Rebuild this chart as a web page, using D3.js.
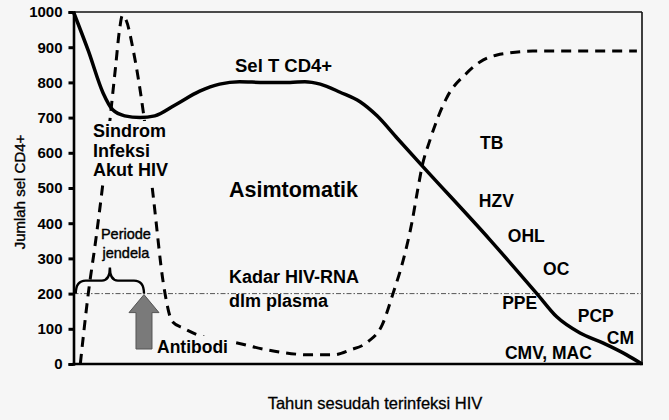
<!DOCTYPE html>
<html>
<head>
<meta charset="utf-8">
<script src="https://cdn.jsdelivr.net/npm/d3@7"></script>
<style>
  html, body { margin: 0; padding: 0; background: #f6f6f6; }
  svg { display: block; font-family: "Liberation Sans", Arial, sans-serif; }
</style>
</head>
<body>
<svg id="chart" width="669" height="420"></svg>
<script>
// ---- data ----
const yTicks = [0, 100, 200, 300, 400, 500, 600, 700, 800, 900, 1000];

// CD4+ T cell count (solid line): time (arbitrary 0-100) and value
const cd4Time  = [0, 2.6, 5.2, 6.9, 9.0, 11.7, 14.3, 17.8, 22.2, 25.7, 29.2, 33.6, 38.1, 40.7, 43.4, 46.9, 50.4, 53.4, 56.9, 61.5, 73.3, 81.5, 85.0, 89.1, 93.1, 97.3, 100];
const cd4Value = [1000, 890, 770, 722, 705, 700, 705, 735, 775, 795, 802, 800, 800, 802, 795, 772, 745, 705, 642, 560, 352, 200, 134, 88, 60, 26, 0];

// HIV-RNA in plasma (dashed line)
const rnaTime  = [1.2, 2.6, 3.9, 5.1, 7.4, 8.1, 8.6, 9.3, 10.5, 12.3, 14.1, 15.8, 17.4, 19.3, 22.8, 28.1, 34.1, 41.7, 45.7, 48.7, 51.7, 54.3, 56.2, 58.0, 59.5, 60.6, 61.3, 62.7, 65.7, 69.2, 71.5, 74.5, 76.3, 80.8, 99.1];
const rnaValue = [0, 200, 350, 503, 844, 950, 990, 975, 892, 713, 466, 230, 120, 102, 77, 62, 40, 26, 26, 40, 62, 111, 200, 295, 400, 500, 560, 636, 758, 827, 858, 878, 883, 889, 889];

const thresholdValue = 200;

// annotation labels
const stageLines = ["Sindrom", "Infeksi", "Akut HIV"];
const windowLines = ["Periode", "jendela"];
const rnaLines = ["Kadar HIV-RNA", "dlm plasma"];
const infections = [
  { name: "TB",       t: 71.5, v: 610 },
  { name: "HZV",      t: 71.3, v: 446 },
  { name: "OHL",      t: 76.4, v: 347 },
  { name: "OC",       t: 82.6, v: 253 },
  { name: "PPE",      t: 75.4, v: 157 },
  { name: "PCP",      t: 88.7, v: 120 },
  { name: "CM",       t: 93.8, v: 57 },
  { name: "CMV, MAC", t: 75.9, v: 14 }
];

// ---- layout ----
const svg = d3.select("#chart");
const bg = "#f6f6f6";
const x = d3.scaleLinear().domain([0, 100]).range([73.5, 642]);
const y = d3.scaleLinear().domain([0, 1000]).range([364, 12]);

svg.append("rect").attr("width", 669).attr("height", 420).attr("fill", bg);

// frame: top and right thin lines
svg.append("line").attr("x1", x(0)).attr("x2", x(100)).attr("y1", y(1000)).attr("y2", y(1000))
  .attr("stroke", "#111").attr("stroke-width", 1.6);
svg.append("line").attr("x1", x(100)).attr("x2", x(100)).attr("y1", y(1000)).attr("y2", y(0))
  .attr("stroke", "#111").attr("stroke-width", 1.6);

// threshold dash-dot line at 200
svg.append("line").attr("x1", x(0)).attr("x2", x(100)).attr("y1", y(thresholdValue)).attr("y2", y(thresholdValue))
  .attr("stroke", "#555").attr("stroke-width", 1).attr("stroke-dasharray", "5,2,1.5,2");

// dashed HIV-RNA line
const line = d3.line().curve(d3.curveMonotoneX);
svg.append("path")
  .attr("d", line(rnaTime.map((t, i) => [x(t), y(rnaValue[i])])))
  .attr("fill", "none").attr("stroke", "#000").attr("stroke-width", 3)
  .attr("stroke-dasharray", "10,7");

// background boxes behind labels (hide dashed line)
svg.append("rect").attr("x", 91).attr("y", 121).attr("width", 78).attr("height", 60).attr("fill", bg);
svg.append("rect").attr("x", 155).attr("y", 336).attr("width", 75).attr("height", 22).attr("fill", bg);

// solid CD4 line
svg.append("path")
  .attr("d", line(cd4Time.map((t, i) => [x(t), y(cd4Value[i])])))
  .attr("fill", "none").attr("stroke", "#000").attr("stroke-width", 3.5)
  .attr("stroke-linejoin", "round");

// y axis
const yAxis = d3.axisLeft(y).tickValues(yTicks).tickSize(5).tickPadding(6).tickFormat(d3.format("d"));
const gy = svg.append("g").attr("transform", `translate(${x(0)},0)`).call(yAxis);
gy.select(".domain").attr("stroke", "#000").attr("stroke-width", 2.6);
gy.selectAll(".tick line").attr("stroke", "#000").attr("stroke-width", 3);
gy.selectAll(".tick text").attr("font-size", 15).attr("font-weight", "bold")
  .attr("font-family", "'Liberation Sans', Arial, sans-serif").attr("fill", "#000");

// x axis line
svg.append("line").attr("x1", x(0) - 1).attr("x2", x(100) + 1).attr("y1", y(0)).attr("y2", y(0))
  .attr("stroke", "#000").attr("stroke-width", 2.6);

// axis titles
svg.append("text").attr("transform", "translate(25,192) rotate(-90)")
  .attr("text-anchor", "middle").attr("font-size", 15).attr("fill", "#000")
  .attr("stroke", "#000").attr("stroke-width", 0.35)
  .text("Jumlah sel CD4+");
svg.append("text").attr("x", 375).attr("y", 409).attr("text-anchor", "middle")
  .attr("font-size", 16.5).attr("fill", "#000").attr("stroke", "#000").attr("stroke-width", 0.3)
  .text("Tahun sesudah terinfeksi HIV");

// window-period brace
const bx0 = x(0.4), bx1 = x(12.4), by = y(thresholdValue), bt = by - 13, bm = (bx0 + bx1) / 2, bpk = by - 26;
svg.append("path")
  .attr("d", `M${bx0},${by} Q${bx0},${bt} ${bx0 + 10},${bt} L${bm - 8},${bt} Q${bm},${bt} ${bm},${bpk}` +
             ` Q${bm},${bt} ${bm + 8},${bt} L${bx1 - 10},${bt} Q${bx1},${bt} ${bx1},${by}`)
  .attr("fill", "none").attr("stroke", "#000").attr("stroke-width", 2.4);

windowLines.forEach((s, i) => {
  svg.append("text").attr("x", bm + 16).attr("y", 239 + i * 19).attr("text-anchor", "middle")
    .attr("font-size", 14.5).attr("fill", "#000").attr("stroke", "#000").attr("stroke-width", 0.4)
    .text(s);
});

// antibody arrow
const ax = x(12.4), atip = y(thresholdValue) + 1, abot = 349;
svg.append("path")
  .attr("d", `M${ax},${atip} L${ax + 15},${atip + 18} L${ax + 8},${atip + 18} L${ax + 8},${abot}` +
             ` L${ax - 8},${abot} L${ax - 8},${atip + 18} L${ax - 15},${atip + 18} Z`)
  .attr("fill", "#7a7a7a").attr("stroke", "#555").attr("stroke-width", 1);

// text labels
const bold = (t, xx, yy, size, anchor) => svg.append("text").attr("x", xx).attr("y", yy)
  .attr("font-size", size).attr("font-weight", "bold").attr("fill", "#000")
  .attr("text-anchor", anchor || "start").text(t);

bold("Sel T CD4+", 235, 72, 18.5);
stageLines.forEach((s, i) => bold(s, 93, 137 + i * 19.5, 18));
bold("Asimtomatik", 229, 197, 21.5);
rnaLines.forEach((s, i) => bold(s, 229, 283 + i * 24, 18));
bold("Antibodi", 157, 353, 17.5);
infections.forEach(d => bold(d.name, x(d.t), y(d.v), 17.5));
</script>
</body>
</html>
